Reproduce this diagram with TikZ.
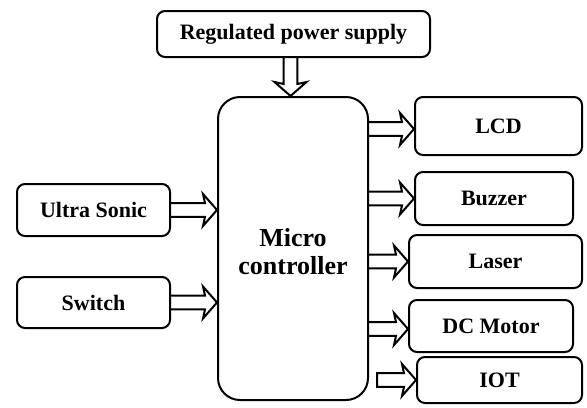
\documentclass[tikz,border=0pt]{standalone}
\usepackage{fontspec}
\setmainfont{Liberation Serif}
\usetikzlibrary{calc}

\begin{document}
\begin{tikzpicture}[x=0.5pt,y=-0.5pt,
  block/.style={draw, line width=1pt, rounded corners=4pt, align=center,
    font=\fontsize{11}{13}\selectfont\bfseries, inner sep=0pt},
  % hollow block arrow: two shaft lines and an open head
  bigarrow/.style={line width=1pt, line join=miter, to path={
    let \p1=(\tikztostart), \p2=(\tikztotarget),
        \n1={atan2(\y2-\y1,\x2-\x1)} in
    ($(\p1)+(\n1+90:3.4pt)$) -- ($(\p2)+(\n1+180:6pt)+(\n1+90:3.4pt)$)
    -- ($(\p2)+(\n1+180:7pt)+(\n1+90:8pt)$) -- (\p2)
    -- ($(\p2)+(\n1+180:7pt)+(\n1-90:8pt)$)
    -- ($(\p2)+(\n1+180:6pt)+(\n1-90:3.4pt)$) -- ($(\p1)+(\n1-90:3.4pt)$) #1}},
  bigarrow/.default={}]

\useasboundingbox (0,0) rectangle (587,407);

% Power supply on top
\node[block, minimum width=136.5pt, minimum height=23pt] (power) at (293.5,34) {Regulated power supply};

% The controller in the middle
\node[block, rounded corners=11pt, minimum width=75pt, minimum height=151.5pt,
  font=\fontsize{13}{14}\selectfont\bfseries] (micro) at (293,248.5) {\\[-2pt]Micro\\controller};

% Inputs on the left
\node[block, minimum width=76.5pt, minimum height=26pt] (ultra) at (93.5,210) {Ultra Sonic};
\node[block, minimum width=76.5pt, minimum height=25.5pt] (switch) at (93.5,302.5) {Switch};

% Outputs on the right
\node[block, minimum width=83.5pt, minimum height=29pt] (lcd) at (498.5,126) {LCD};
\node[block, minimum width=79pt, minimum height=26.5pt] (buzzer) at (494,198.5) {Buzzer};
\node[block, minimum width=86.5pt, minimum height=26.5pt] (laser) at (495.5,261.5) {Laser};
\node[block, minimum width=82pt, minimum height=26pt] (dcmotor) at (491,326) {DC Motor};
\node[block, minimum width=82.5pt, minimum height=23pt] (iot) at (499.5,380) {IOT};

% Arrows into the controller
\draw[bigarrow] ([xshift=-1.5pt]power.south) to ([xshift=-1.5pt]power.south |- micro.north);
\draw[bigarrow] (ultra.east) to (ultra.east -| micro.west);
\draw[bigarrow] (switch.east) to (switch.east -| micro.west);

% Arrows out of the controller
\draw[bigarrow] ([yshift=-1.5pt]lcd.west -| micro.east) to ([yshift=-1.5pt]lcd.west);
\draw[bigarrow] (buzzer.west -| micro.east) to (buzzer.west);
\draw[bigarrow] (laser.west -| micro.east) to (laser.west);
\draw[bigarrow] ([yshift=-1.5pt]dcmotor.west -| micro.east) to ([yshift=-1.5pt]dcmotor.west);
\draw[bigarrow=-- cycle] ([xshift=4pt]micro.east |- iot.west) to (iot.west);

\end{tikzpicture}
\end{document}
